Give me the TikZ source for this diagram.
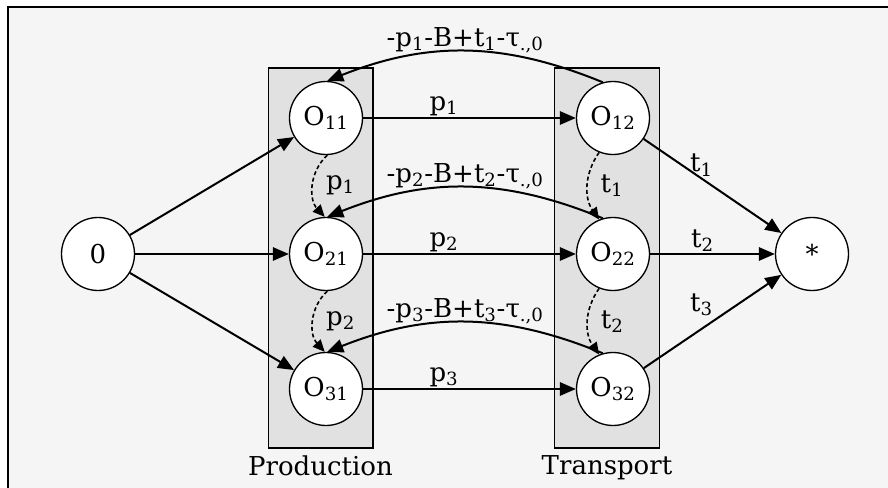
\documentclass[tikz,border=0pt]{standalone}
\usepackage{fontspec}
\setmainfont{DejaVu Serif}
\usetikzlibrary{arrows.meta}
\definecolor{pagegray}{RGB}{245,245,245}
\definecolor{boxgray}{RGB}{225,225,225}

\begin{document}
\begin{tikzpicture}[x=0.75pt,y=-0.75pt,
    font=\fontsize{19.5}{22}\selectfont,
    state/.style={draw,circle,fill=white,line width=1pt,minimum size=54.75pt,inner sep=0pt},
    stage/.style={draw,fill=boxgray,line width=1pt,minimum width=78.5pt,minimum height=285pt,inner sep=0pt},
    flow/.style={line width=1.5pt,-{Triangle[length=12pt,width=10pt]}},
    move/.style={line width=1.2pt,dash pattern=on 3pt off 2pt,-{Triangle[length=9pt,width=8pt]}},
    lab/.style={inner sep=1pt}]
    \useasboundingbox (0,0) rectangle (888,488);
    \fill[pagegray] (8,7) rectangle (888,488);
    \draw[line width=1.5pt] (8,488) -- (8,7) -- (888,7);

    % the two stages
    \node[stage] (prod)  at (320.5,258) {};
    \node[stage] (trans) at (607,258) {};
    \node[below=4pt,inner sep=1pt] (prodlab)  at (prod.south)  {Production};
    \node[below=4pt,inner sep=1pt] (translab) at (trans.south) {Transport};

    \node[state] (src) at (98,254)  {0};
    \node[state] (snk) at (812,254) {*};
    \foreach \i/\y in {1/118,2/254,3/389}{% one row per order
      \node[state] (o\i1) at (326,\y) {O\textsubscript{\i1}};
      \node[state] (o\i2) at (613,\y) {O\textsubscript{\i2}};
    }

    \foreach \i/\ts in {1/0pt,2/0pt,3/8pt}{
      \draw[flow] (src) -- (o\i1);
      \draw[flow] (o\i1) -- node[lab,pos=0.38,above] {p\textsubscript{\i}} (o\i2);
      \draw[flow] (o\i2) -- node[lab,pos=0.42,above,yshift=\ts] {t\textsubscript{\i}} (snk);
      \draw[flow] (o\i2.106) to[bend right=22]
        node[inner sep=0pt,above,yshift=-2pt] {-p\textsubscript{\i}-B+t\textsubscript{\i}-τ\textsubscript{.,0}} (o\i1.88);
    }
    \foreach \i/\j in {1/2,2/3}{
      \draw[move] (o\i1.272) to[bend right=45] node[lab,right=8pt] {p\textsubscript{\i}} (o\j1.92);
      \draw[move] (o\i2.248) to[bend right=35] node[lab,right=8pt] {t\textsubscript{\i}} (o\j2.112);
    }
  \end{tikzpicture}
\end{document}
